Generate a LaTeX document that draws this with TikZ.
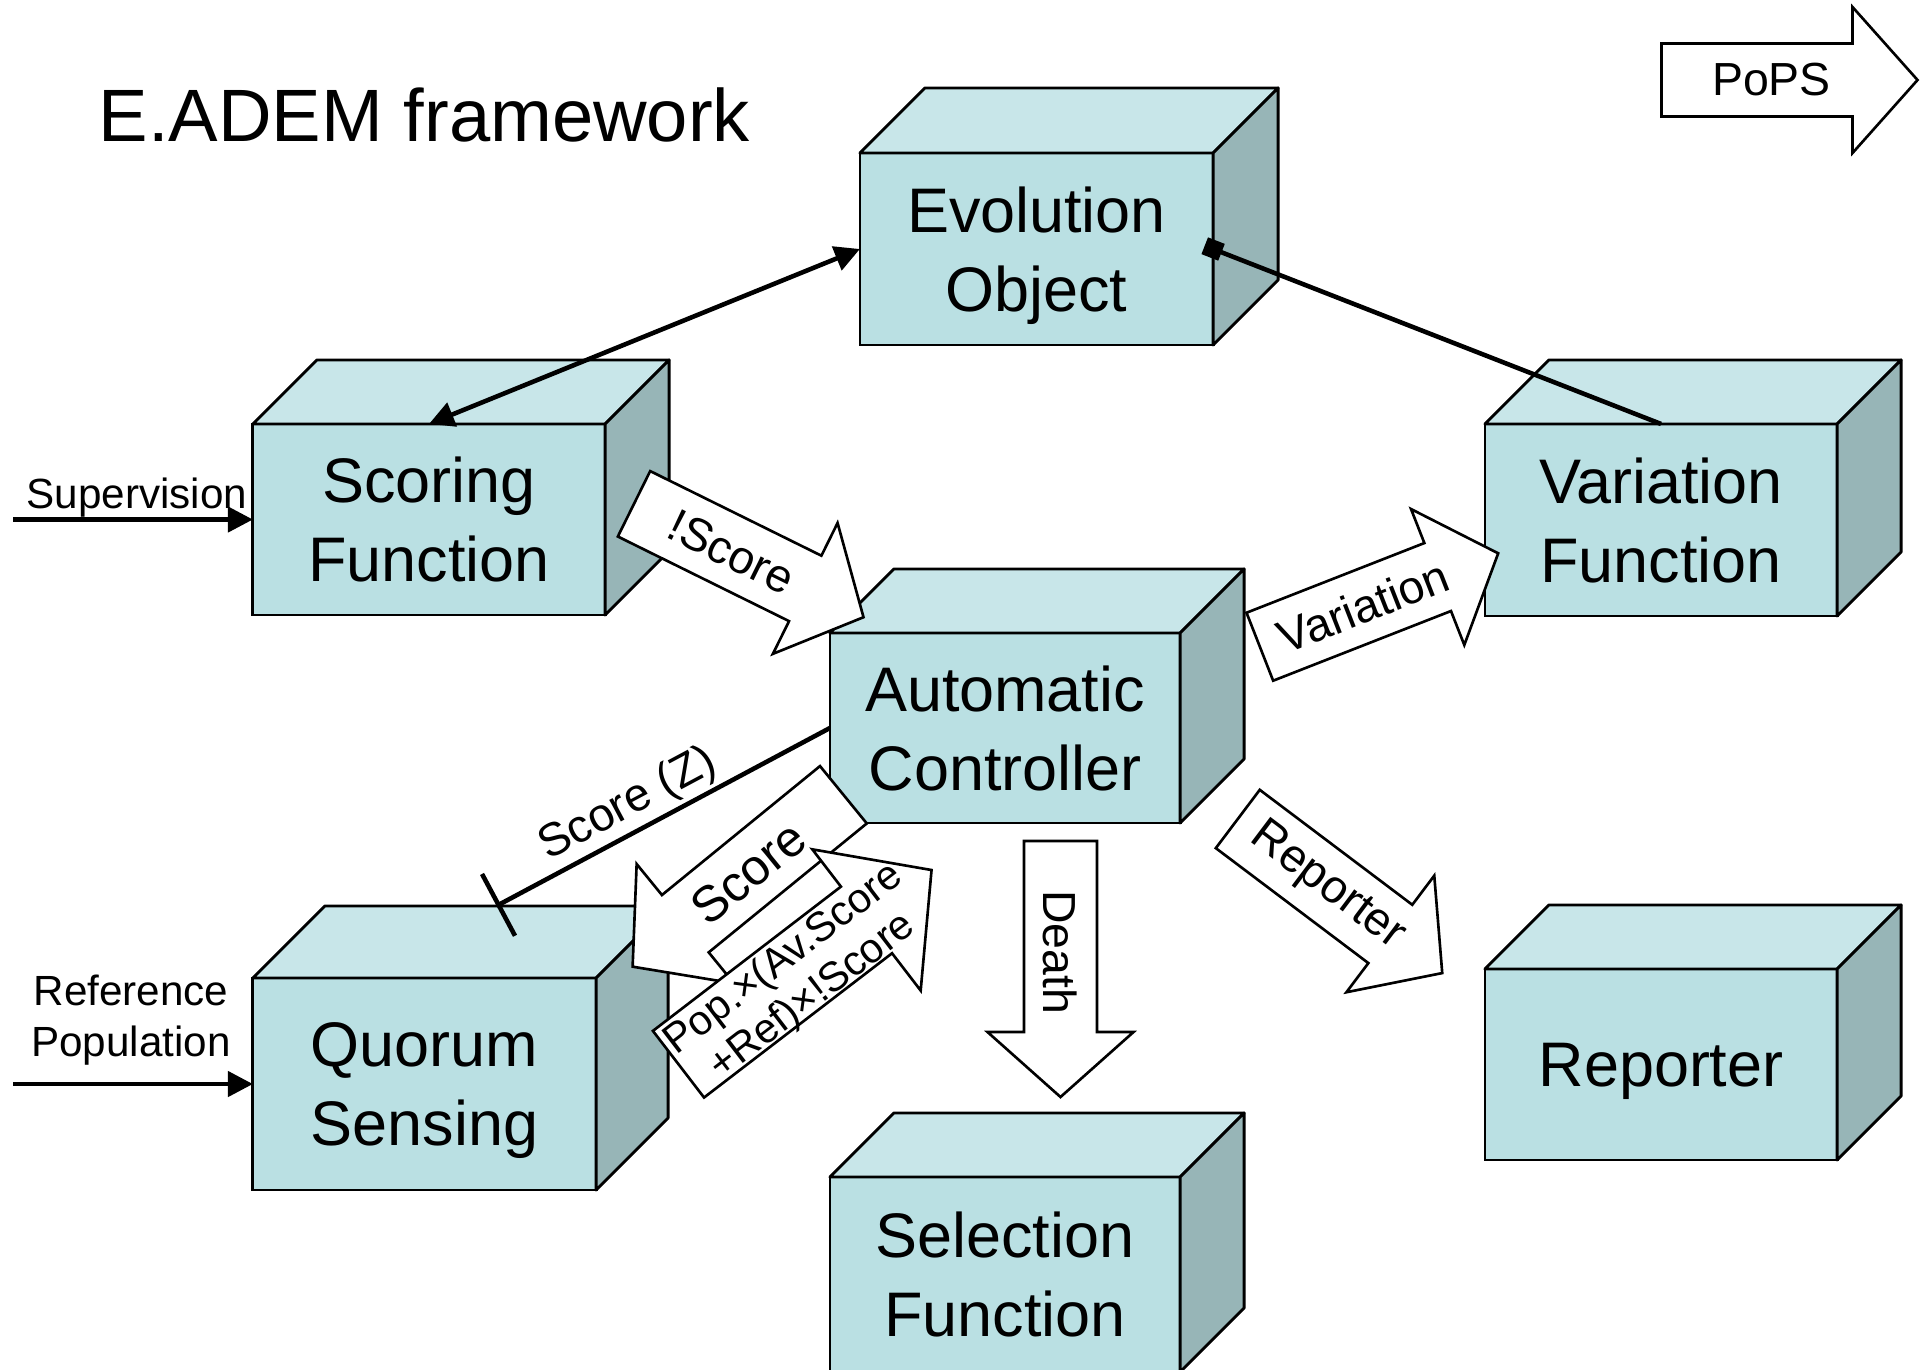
\documentclass[tikz,border=0pt]{standalone}
\usepackage{fontspec}
\setmainfont{Liberation Sans}
\usetikzlibrary{arrows.meta}

\definecolor{faceFront}{RGB}{186,224,227}
\definecolor{faceTop}{RGB}{200,230,233}
\definecolor{faceSide}{RGB}{151,181,183}

\tikzset{
  frontface/.style={draw=black, fill=faceFront, line width=0.8pt, outer sep=0pt,
    inner sep=0pt, align=center, text depth=0pt, font=\fontsize{17.9}{22.4}\selectfont},
  topface/.style={draw=black, fill=faceTop, line width=0.8pt, line join=round},
  sideface/.style={draw=black, fill=faceSide, line width=0.8pt, line join=round},
  conn/.style={line width=1.3pt},
  barrow/.style={draw=black, fill=white, line width=0.75pt, line join=miter},
  alabel/.style={transform shape, inner sep=0pt, font=\fontsize{13.2}{15}\selectfont},
  sidelabel/.style={inner sep=0pt, align=center, font=\fontsize{12}{14.6}\selectfont},
}

% 3-D box: name, centre of front face, width, height, depth, text
\newcommand\tealbox[6]{%
  \node[frontface, minimum width=#3, minimum height=#4] (#1) at (#2) {#6};
  \filldraw[topface] (#1.north west) -- ++(#5,-#5) -- ([shift={(#5,-#5)}]#1.north east)
    -- (#1.north east) -- cycle;
  \filldraw[sideface] (#1.north east) -- ++(#5,-#5) -- ([shift={(#5,-#5)}]#1.south east)
    -- (#1.south east) -- cycle;
}

% block arrow outline along local x: half length, head length, shaft half width, head half width
\newcommand\blockshape[4]{%
  \filldraw[barrow] (-#1,-#3) -- ({#1-#2},-#3) -- ({#1-#2},-#4) -- (#1,0)
    -- ({#1-#2},#4) -- ({#1-#2},#3) -- (-#1,#3) -- cycle;
}

\begin{document}
\begin{tikzpicture}[x=0.01cm, y=-0.01cm]
\fill[white] (0,0) rectangle (1928,1369);
\useasboundingbox (0,0) rectangle (1928,1369);

% title
\node[anchor=base west, inner sep=0pt, font=\fontsize{21.1}{25}\selectfont] (title)
  at (98,141) {E.ADEM framework};

% boxes
\tealbox{evo}{1036.5,249}{3.53cm}{1.92cm}{65}{Evolution\\Object}
\tealbox{scoring}{429,519.5}{3.52cm}{1.91cm}{64}{Scoring\\Function}
\tealbox{variation}{1661,520}{3.52cm}{1.92cm}{64}{Variation\\Function}
\tealbox{ctrl}{1005,728}{3.5cm}{1.9cm}{64}{Automatic\\Controller}
\tealbox{quorum}{424.5,1084}{3.43cm}{2.12cm}{72}{Quorum\\Sensing}
\tealbox{selection}{1005,1274.5}{3.5cm}{1.95cm}{64}{Selection\\Function}
\tealbox{reporter}{1661,1064.5}{3.52cm}{1.91cm}{64}{Reporter}

% inputs on the left
\node[sidelabel, anchor=base] (suplbl) at (137,508) {Supervision};
\node[sidelabel] (reflbl) at (131,1020) {Reference\\Population};
\coordinate (supstart) at (13,519.5);
\coordinate (refstart) at (13,1084);
\draw[conn, -{Triangle[length=0.25cm,width=0.25cm]}] (supstart) -- (scoring.west);
\draw[conn, -{Triangle[length=0.25cm,width=0.25cm]}] (refstart) -- (quorum.west);

% links to the evolution object
\draw[conn, {Triangle[length=0.25cm,width=0.25cm]}-{Triangle[length=0.25cm,width=0.25cm]}]
  (scoring.north) -- (evo.west);
\draw[conn, -{Square[length=0.18cm,width=0.18cm]}, shorten >=-0.09cm]
  (variation.north) -- (evo.east);

% score (Z) from the controller to quorum sensing
\coordinate (qtop) at ([shift={(72,-72)}]quorum.north);
\draw[conn, {Bar[width=0.7cm]}-] (qtop) -- node[sloped, above, pos=0.433, inner sep=1pt,
  font=\fontsize{13.2}{15}\selectfont] (zlbl) {Score (Z)} (ctrl.west);

% block arrows
\begin{scope}[shift={(1789.5,80)}]
  \blockshape{128}{65}{36.5}{73}
  \node[alabel] (popsl) at (-18,0) {PoPS};
\end{scope}

\begin{scope}[shift={(748.75,560.5)}, rotate=-26.3]
  \blockshape{128}{65}{36.5}{73}
  \node[alabel] (nscorel) at (-19,0) {!Score};
\end{scope}

\begin{scope}[shift={(1379,600)}, rotate=21.4]
  \blockshape{128}{65}{36.5}{73}
  \node[alabel] (varl) at (-17,0) {Variation};
\end{scope}

\begin{scope}[shift={(1340,896)}, rotate=-37]
  \blockshape{128}{65}{36.5}{73}
  \node[alabel] (repl) at (-16,0) {Reporter};
\end{scope}

\begin{scope}[shift={(1060.5,969)}, rotate=-90]
  \blockshape{128}{65}{36.5}{73}
  \node[alabel] (deathl) at (-17,0) {Death};
\end{scope}

\begin{scope}[shift={(738,880.7)}, rotate=219.2]
  \blockshape{136}{68}{37}{77}
  \node[alabel, rotate=180, font=\fontsize{14.3}{16}\selectfont] (scorel) at (-13,0) {Score};
\end{scope}

\begin{scope}[shift={(805,967.1)}, rotate=37.5]
  \blockshape{159.5}{82}{42}{89}
  \node[alabel, align=center, font=\fontsize{11.8}{13.4}\selectfont] (popl) at (-12,5)
    {Pop.×(Av.Score\\+Ref)×!Score};
\end{scope}
\end{tikzpicture}
\end{document}
